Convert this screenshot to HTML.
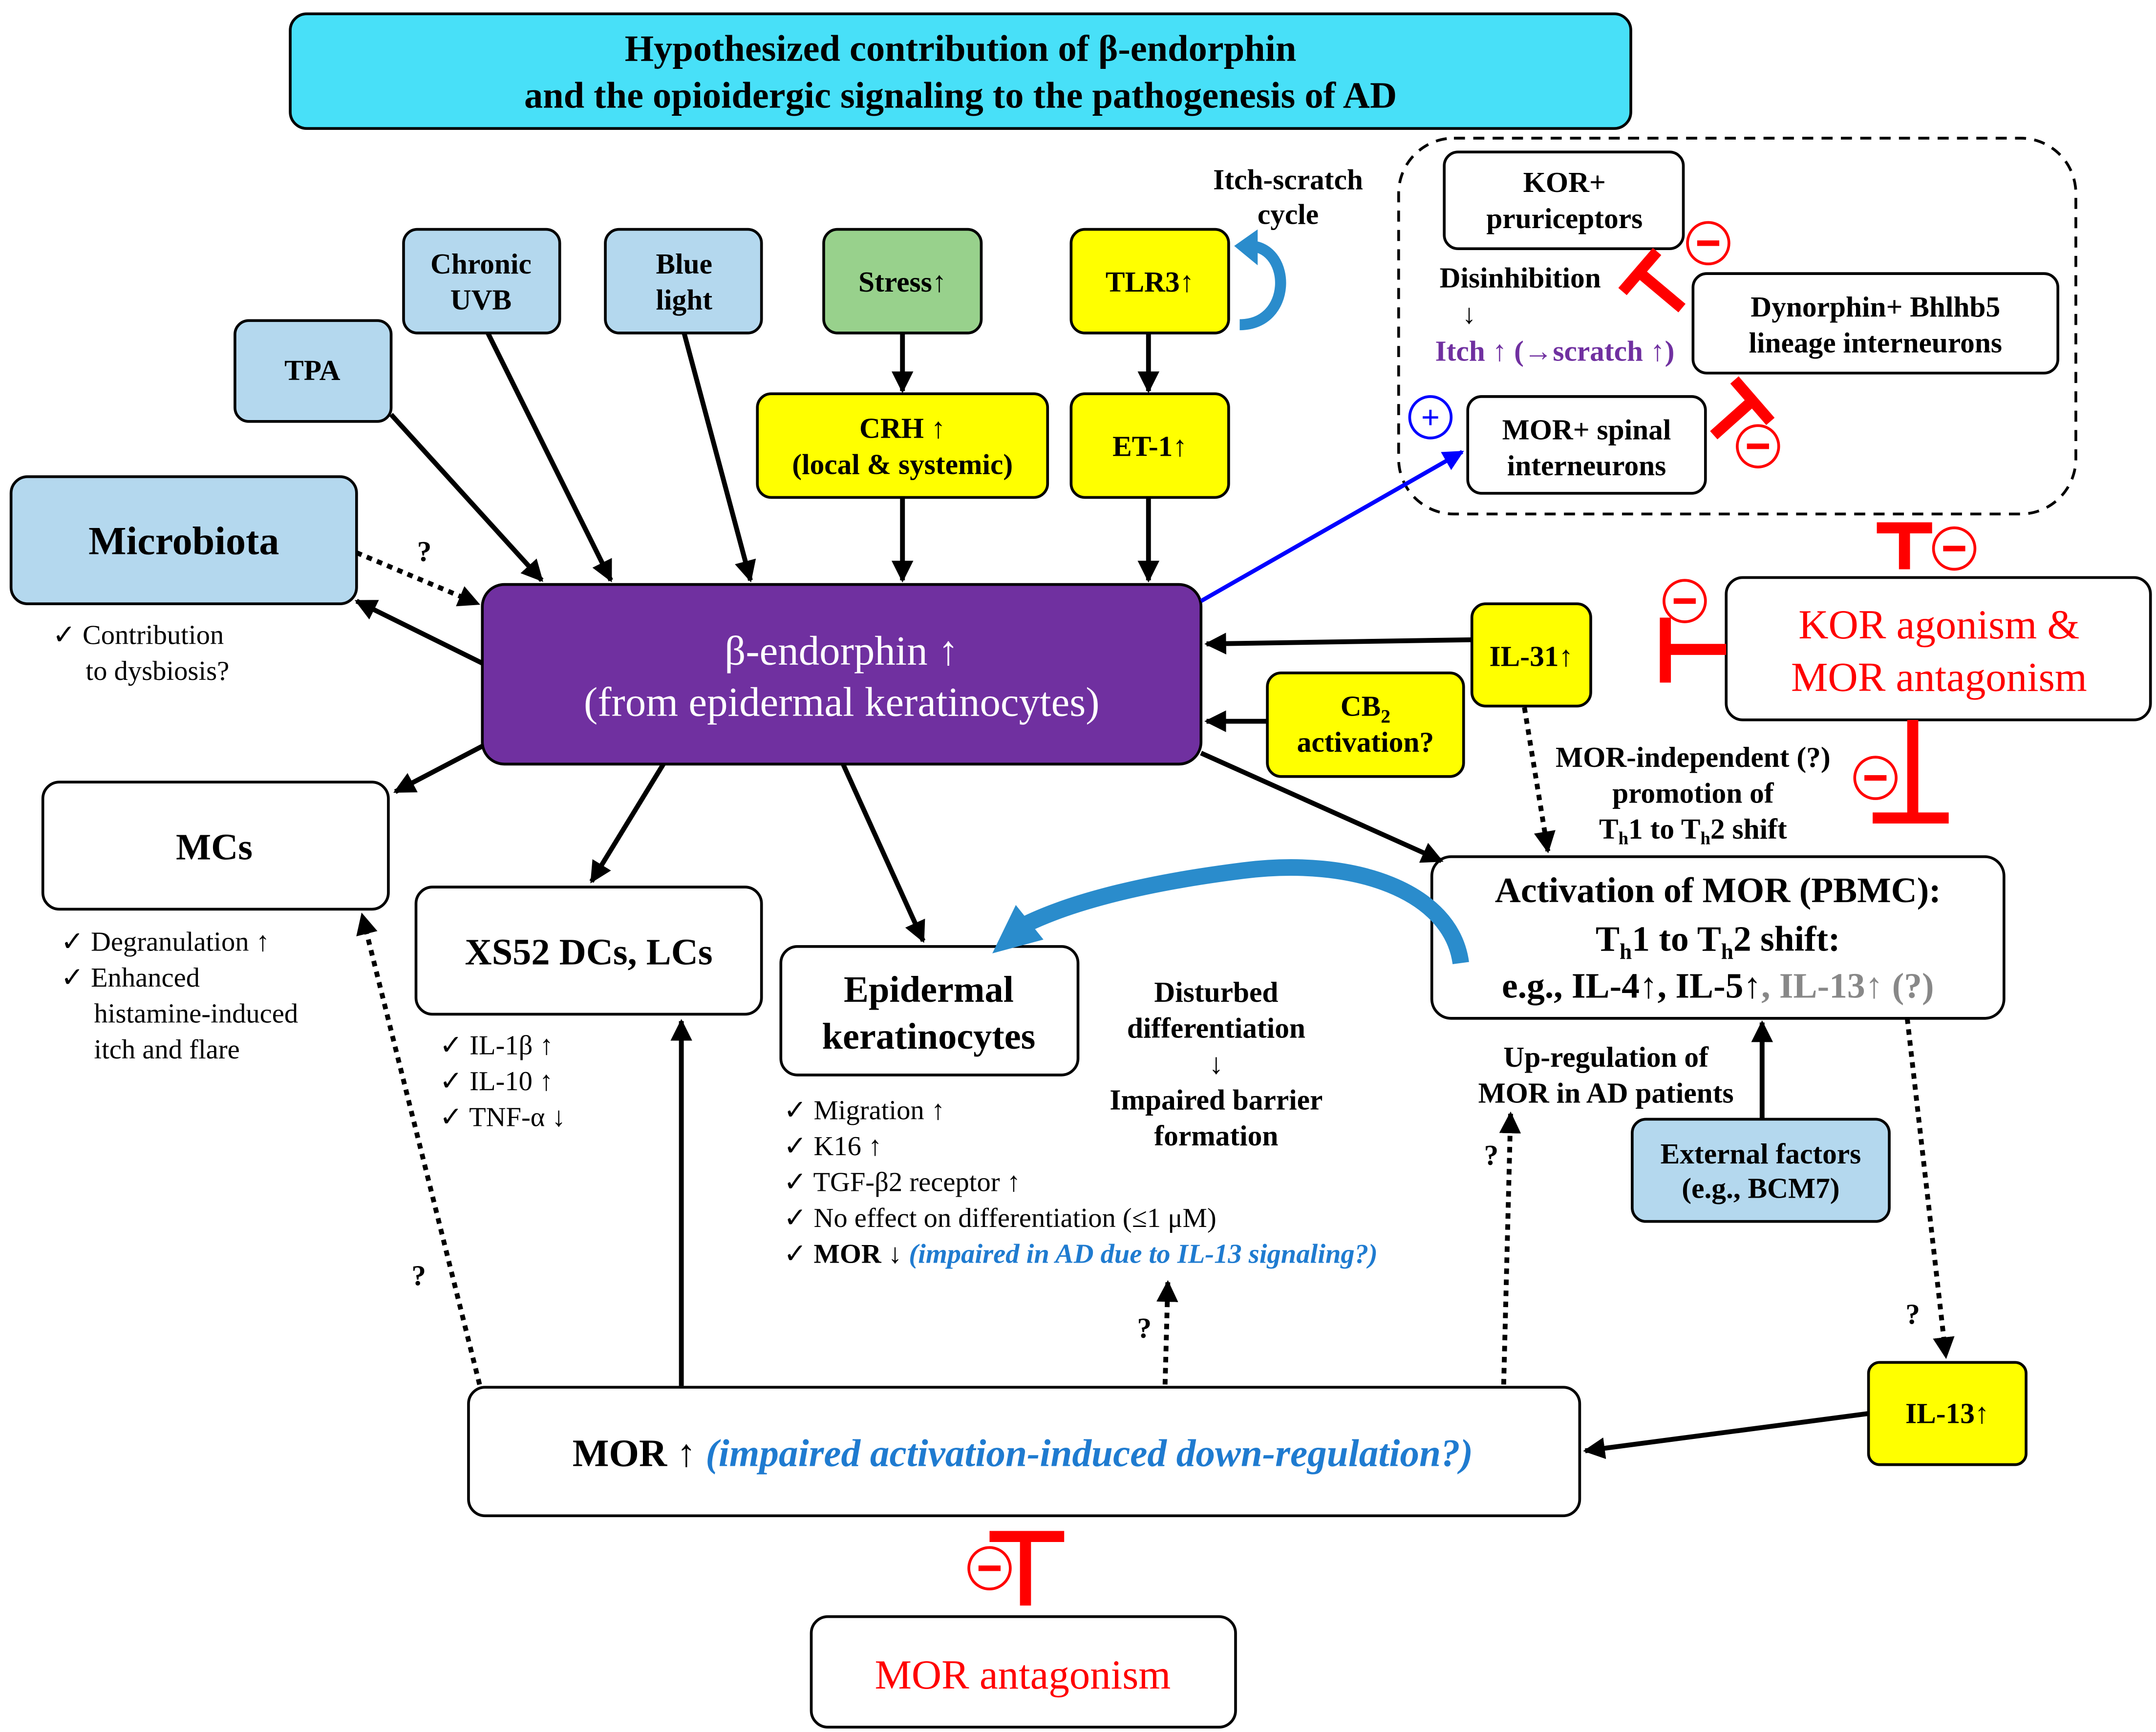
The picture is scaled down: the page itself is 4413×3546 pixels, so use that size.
<!DOCTYPE html>
<html><head><meta charset="utf-8"><style>
html,body{margin:0;padding:0;background:#fff}
svg{display:block}
text{font-family:"Liberation Serif",serif}
</style></head><body>
<svg width="4413" height="3546" viewBox="0 0 1560 1253.5" preserveAspectRatio="none" xmlns="http://www.w3.org/2000/svg">
<defs>
<marker id="a" viewBox="0 0 10 10" refX="9" refY="5" markerWidth="4.5" markerHeight="4.5" orient="auto"><path d="M0,0L10,5L0,10z" fill="#000"/></marker>
<marker id="ab" viewBox="0 0 10 10" refX="9" refY="5" markerWidth="5" markerHeight="5" orient="auto"><path d="M0,0L10,5L0,10z" fill="#0000ff"/></marker>
</defs>
<g stroke="#000" stroke-width="2">
<rect x="210" y="10" width="970" height="83" rx="12" fill="#48e0f8"/>
<rect x="1012" y="100" width="490" height="272" rx="40" fill="none" stroke-dasharray="8,6"/>
<rect x="1045" y="110" width="173" height="70" rx="10" fill="#fff"/>
<rect x="1225" y="198" width="264" height="72" rx="10" fill="#fff"/>
<rect x="1062" y="287" width="172" height="70" rx="10" fill="#fff"/>
<rect x="292" y="166" width="113" height="75" rx="10" fill="#b4d8ee"/>
<rect x="438" y="166" width="113" height="75" rx="10" fill="#b4d8ee"/>
<rect x="596" y="166" width="114" height="75" rx="10" fill="#98d18c"/>
<rect x="775" y="166" width="114" height="75" rx="10" fill="#ffff00"/>
<rect x="170" y="232" width="113" height="73" rx="10" fill="#b4d8ee"/>
<rect x="548" y="285" width="210" height="75" rx="10" fill="#ffff00"/>
<rect x="775" y="285" width="114" height="75" rx="10" fill="#ffff00"/>
<rect x="8" y="345" width="250" height="92" rx="12" fill="#b4d8ee"/>
<rect x="349" y="423" width="520" height="130" rx="16" fill="#7030a0"/>
<rect x="1065" y="437" width="86" height="74" rx="10" fill="#ffff00"/>
<rect x="917" y="487" width="142" height="75" rx="10" fill="#ffff00"/>
<rect x="1249" y="418" width="307" height="103" rx="12" fill="#fff"/>
<rect x="31" y="566" width="250" height="92" rx="12" fill="#fff"/>
<rect x="301" y="642" width="250" height="92" rx="12" fill="#fff"/>
<rect x="565" y="685" width="215" height="93" rx="12" fill="#fff"/>
<rect x="1036" y="620" width="414" height="117" rx="14" fill="#fff"/>
<rect x="339" y="1004" width="804" height="93" rx="12" fill="#fff"/>
<rect x="1352" y="986" width="114" height="74" rx="8" fill="#ffff00"/>
<rect x="1181" y="810" width="186" height="74" rx="10" fill="#b4d8ee"/>
<rect x="587" y="1170" width="307" height="80" rx="12" fill="#fff"/>
</g>
<g stroke="#000" stroke-width="3.5" fill="none" marker-end="url(#a)">
<line x1="283" y1="300" x2="392" y2="420"/>
<line x1="353" y1="241" x2="442" y2="420"/>
<line x1="495" y1="241" x2="543" y2="420"/>
<line x1="653" y1="241" x2="653" y2="283"/>
<line x1="831" y1="241" x2="831" y2="283"/>
<line x1="653" y1="360" x2="653" y2="420"/>
<line x1="831" y1="360" x2="831" y2="420"/>
<line x1="349" y1="480" x2="258" y2="435"/>
<line x1="1065" y1="463" x2="873" y2="466"/>
<line x1="917" y1="522" x2="873" y2="522"/>
<line x1="349" y1="540" x2="286" y2="573"/>
<line x1="480" y1="553" x2="428" y2="638"/>
<line x1="610" y1="553" x2="668" y2="681"/>
<line x1="869" y1="545" x2="1043" y2="623"/>
<line x1="493" y1="1003" x2="493" y2="739"/>
<line x1="1275" y1="810" x2="1275" y2="740"/>
<line x1="1352" y1="1023" x2="1147" y2="1050"/>
</g>
<g stroke="#000" stroke-width="3.5" fill="none" stroke-dasharray="4,4" marker-end="url(#a)">
<line x1="258" y1="400" x2="346" y2="437"/>
<line x1="1103" y1="512" x2="1120" y2="616"/>
<line x1="1380" y1="737" x2="1408" y2="982"/>
<line x1="1088" y1="1002" x2="1093" y2="806"/>
<line x1="843" y1="1002" x2="845" y2="928"/>
<line x1="347" y1="1002" x2="262" y2="662"/>
</g>
<line x1="869" y1="435" x2="1058" y2="327" stroke="#0000ff" stroke-width="3" marker-end="url(#ab)"/>
<path d="M1057,697 C1050,645 980,620 900,630 C820,640 770,655 740,670" fill="none" stroke="#2a8ccc" stroke-width="12"/>
<path d="M718,690 L735,655 L755,680 z" fill="#2a8ccc"/>
<path d="M897,235 C935,235 935,180 905,178" fill="none" stroke="#2a8ccc" stroke-width="8"/>
<path d="M893,178 L910,166 L910,192 z" fill="#2a8ccc"/>
<g stroke="#ff0000" stroke-width="8" fill="none">
<line x1="1217" y1="223" x2="1186" y2="197"/><line x1="1174" y1="211" x2="1199" y2="182"/>
<line x1="1268" y1="290" x2="1240" y2="315"/><line x1="1255" y1="275" x2="1281" y2="305"/>
<line x1="1378" y1="412" x2="1378" y2="380"/><line x1="1358" y1="382" x2="1398" y2="382"/>
<line x1="1249" y1="470" x2="1205" y2="470"/><line x1="1205" y1="447" x2="1205" y2="494"/>
<line x1="1384" y1="521" x2="1384" y2="592"/><line x1="1355" y1="592" x2="1410" y2="592"/>
<line x1="742" y1="1162" x2="742" y2="1110"/><line x1="716" y1="1112" x2="770" y2="1112"/>
</g>
<g fill="none" stroke="#ff0000" stroke-width="2">
<circle cx="1236" cy="176" r="15"/><circle cx="1272" cy="323" r="15"/>
<circle cx="1414" cy="397" r="15"/><circle cx="1219" cy="435" r="15"/>
<circle cx="1357" cy="563" r="15"/><circle cx="716" cy="1135" r="15"/>
</g>
<g fill="#ff0000">
<rect x="1228" y="174" width="16" height="4"/><rect x="1264" y="321" width="16" height="4"/>
<rect x="1406" y="395" width="16" height="4"/><rect x="1211" y="433" width="16" height="4"/>
<rect x="1349" y="561" width="16" height="4"/><rect x="708" y="1133" width="16" height="4"/>
</g>
<circle cx="1035" cy="302" r="15" fill="none" stroke="#0000ff" stroke-width="2"/>
<text x="1035" y="310" font-size="24" font-weight="bold" fill="#0000ff" text-anchor="middle">+</text>
<g text-anchor="middle" font-weight="bold" font-size="21" fill="#000">
<text x="695" y="44" font-size="27">Hypothesized contribution of β-endorphin</text>
<text x="695" y="78" font-size="27">and the opioidergic signaling to the pathogenesis of AD</text>
<text x="1132" y="139">KOR+</text><text x="1132" y="165">pruriceptors</text>
<text x="1357" y="229">Dynorphin+ Bhlhb5</text><text x="1357" y="255">lineage interneurons</text>
<text x="1148" y="318">MOR+ spinal</text><text x="1148" y="344">interneurons</text>
<text x="1100" y="208">Disinhibition</text>
<text x="1125" y="261" fill="#7030a0">Itch ↑ (→scratch ↑)</text>
<text x="932" y="137">Itch-scratch</text><text x="932" y="162">cycle</text>
<text x="348" y="198">Chronic</text><text x="348" y="224">UVB</text>
<text x="495" y="198">Blue</text><text x="495" y="224">light</text>
<text x="653" y="211">Stress↑</text>
<text x="832" y="211">TLR3↑</text>
<text x="226" y="275">TPA</text>
<text x="653" y="317">CRH ↑</text><text x="653" y="343">(local &amp; systemic)</text>
<text x="832" y="330">ET-1↑</text>
<text x="133" y="401" font-size="29">Microbiota</text>
<text x="609" y="481" font-size="30" fill="#fff" font-weight="normal">β-endorphin ↑</text>
<text x="609" y="518" font-size="30" fill="#fff" font-weight="normal">(from epidermal keratinocytes)</text>
<text x="1108" y="482">IL-31↑</text>
<text x="988" y="518">CB<tspan font-size="14" dy="5">2</tspan></text>
<text x="988" y="544">activation?</text>
<text x="1403" y="462" font-size="30" fill="#ff0000" font-weight="normal">KOR agonism &amp;</text>
<text x="1403" y="500" font-size="30" fill="#ff0000" font-weight="normal">MOR antagonism</text>
<text x="1225" y="555">MOR-independent (?)</text>
<text x="1225" y="581">promotion of</text>
<text x="1225" y="607">T<tspan font-size="13" dy="4">h</tspan><tspan dy="-4">1 to T</tspan><tspan font-size="13" dy="4">h</tspan><tspan dy="-4">2 shift</tspan></text>
<text x="155" y="622" font-size="27">MCs</text>
<text x="426" y="698" font-size="27">XS52 DCs, LCs</text>
<text x="672" y="725" font-size="27">Epidermal</text><text x="672" y="759" font-size="27">keratinocytes</text>
<text x="1243" y="653" font-size="26">Activation of MOR (PBMC):</text>
<text x="1243" y="688" font-size="26">T<tspan font-size="16" dy="6">h</tspan><tspan dy="-6">1 to T</tspan><tspan font-size="16" dy="6">h</tspan><tspan dy="-6">2 shift:</tspan></text>
<text x="1243" y="722" font-size="26">e.g., IL-4↑, IL-5↑<tspan fill="#888">, IL-13↑ (?)</tspan></text>
<text x="880" y="725">Disturbed</text><text x="880" y="751">differentiation</text>
<text x="880" y="777" font-weight="normal">↓</text>
<text x="880" y="803">Impaired barrier</text><text x="880" y="829">formation</text>
<text x="1162" y="772">Up-regulation of</text><text x="1162" y="798">MOR in AD patients</text>
<text x="1274" y="842">External factors</text><text x="1274" y="867">(e.g., BCM7)</text>
<text x="1409" y="1030">IL-13↑</text>
<text x="740" y="1061" font-size="28">MOR ↑ <tspan fill="#1f7bd0" font-style="italic">(impaired activation-induced down-regulation?)</tspan></text>
<text x="740" y="1222" font-size="30" fill="#ff0000" font-weight="normal">MOR antagonism</text>
<text x="307" y="406">?</text><text x="1079" y="843">?</text><text x="828" y="968">?</text>
<text x="303" y="930">?</text><text x="1384" y="958">?</text>
</g>
<g font-size="20" fill="#000">
<text x="1058" y="234" font-size="20">↓</text>
<text x="38" y="466">✓ Contribution</text><text x="62" y="492">to dysbiosis?</text>
<text x="44" y="688">✓ Degranulation ↑</text><text x="44" y="714">✓ Enhanced</text>
<text x="68" y="740">histamine-induced</text><text x="68" y="766">itch and flare</text>
<text x="318" y="763">✓ IL-1β ↑</text><text x="318" y="789">✓ IL-10 ↑</text><text x="318" y="815">✓ TNF-α ↓</text>
<text x="567" y="810">✓ Migration ↑</text><text x="567" y="836">✓ K16 ↑</text>
<text x="567" y="862">✓ TGF-β2 receptor ↑</text>
<text x="567" y="888">✓  No effect on differentiation (≤1 μM)</text>
<text x="567" y="914">✓ <tspan font-weight="bold">MOR ↓</tspan> <tspan fill="#1f7bd0" font-style="italic" font-weight="bold">(impaired in AD due to IL-13 signaling?)</tspan></text>
</g>
</svg>
</body></html>
